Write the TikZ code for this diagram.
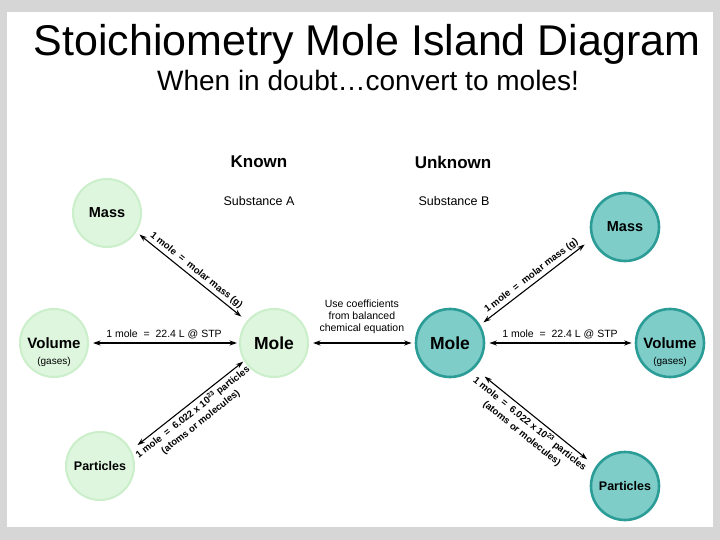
\documentclass[tikz,border=0pt]{standalone}
\usepackage{fontspec}
\setmainfont{Liberation Sans}
\usepackage{tikz}
\usetikzlibrary{arrows.meta, positioning, calc}
\definecolor{islandA}{HTML}{DEF6DE}
\definecolor{shoreA}{HTML}{CBEECB}
\definecolor{islandB}{HTML}{7ECDC9}
\definecolor{shoreB}{HTML}{2C9C97}
\definecolor{frame}{HTML}{D6D6D6}

\begin{document}
\begin{tikzpicture}[x=1pt, y=-1pt, >={Stealth[length=7.5pt, width=5pt]},
  every node/.style={font=\fontsize{10.5}{12}\selectfont},
  known/.style={circle, minimum size=68pt, inner sep=0pt, fill=islandA, draw=shoreA, line width=2pt},
  unknown/.style={circle, minimum size=68pt, inner sep=0pt, fill=islandB, draw=shoreB, line width=2.6pt},
  link/.style={<->, line width=1.1pt},
  rule/.style={font=\bfseries\fontsize{9.6}{12.5}\selectfont, sloped, align=center, inner sep=2.5pt}]
\fill[frame] (0,0) rectangle (720,540);
\fill[white] (7,12) rectangle (713,527);
\useasboundingbox (0,0) rectangle (720,540);
\node[font=\fontsize{43}{48}\selectfont, anchor=base] (title) at (367,56) {Stoichiometry Mole Island Diagram};
\node[font=\fontsize{28}{32}\selectfont, anchor=base] (motto) at (368,91) {When in doubt…convert to moles!};
\node[font=\bfseries\fontsize{17}{20}\selectfont] (hdA) at (259,162) {Known};
\node[font=\bfseries\fontsize{17}{20}\selectfont] (hdB) at (453,162) {Unknown};
\node[font=\fontsize{12.5}{14}\selectfont] (subA) at (259,201) {Substance A};
\node[font=\fontsize{12.5}{14}\selectfont] (subB) at (454,201) {Substance B};
\node[known, font=\bfseries\fontsize{14.5}{16}\selectfont] (massA) at (107,213) {Mass};
\node[known, font=\bfseries\fontsize{15}{17}\selectfont] (volA) at (54,343) {Volume};
\node[known, font=\bfseries\fontsize{17.5}{20}\selectfont] (moleA) at (274,343) {Mole};
\node[known, font=\bfseries\fontsize{12.5}{14}\selectfont] (partA) at (100,466) {Particles};
\node[unknown, font=\bfseries\fontsize{14.5}{16}\selectfont] (massB) at (625,227) {Mass};
\node[unknown, font=\bfseries\fontsize{17.5}{20}\selectfont] (moleB) at (450,343) {Mole};
\node[unknown, font=\bfseries\fontsize{15}{17}\selectfont] (volB) at (670,343) {Volume};
\node[unknown, font=\bfseries\fontsize{12.5}{14}\selectfont] (partB) at (625,486) {Particles};
\node[font=\fontsize{10}{12}\selectfont] (gasA) at (54,362) {(gases)};
\node[font=\fontsize{10}{12}\selectfont] (gasB) at (670,362) {(gases)};
\draw[link, shorten <=4pt, shorten >=7pt] (massA.-33) -- (moleA.141) node[midway, above, rule]{1 mole \ = \ molar mass (g)};
\draw[link, shorten <=4pt, shorten >=2pt] (volA) -- (moleA) node[midway, above]{1 mole \ = \ 22.4 L @ STP};
\draw[link, shorten <=8pt, shorten >=1pt] (partA.27) -- (moleA.211) node[midway, below, rule]{1 mole \ = \ 6.022 x 10\textsuperscript{23} particles\\(atoms or molecules)};
\draw[link, shorten <=4pt, shorten >=3pt] (moleA) -- (moleB) node[midway, above=5pt, align=center]{Use coefficients\\from balanced\\chemical equation};
\draw[link, shorten <=4pt, shorten >=9pt] (moleB.31) -- (massB.200) node[midway, above, rule]{1 mole \ = \ molar mass (g)};
\draw[link, shorten <=4pt, shorten >=3pt] (moleB) -- (volB) node[midway, above]{1 mole \ = \ 22.4 L @ STP};
\draw[link, shorten <=13pt, shorten >=11pt] (moleB.-46) -- (partB.146) node[midway, below, rule]{1 mole \ = \ 6.022 x 10\textsuperscript{23} particles\\(atoms or molecules)};
\end{tikzpicture}
\end{document}
